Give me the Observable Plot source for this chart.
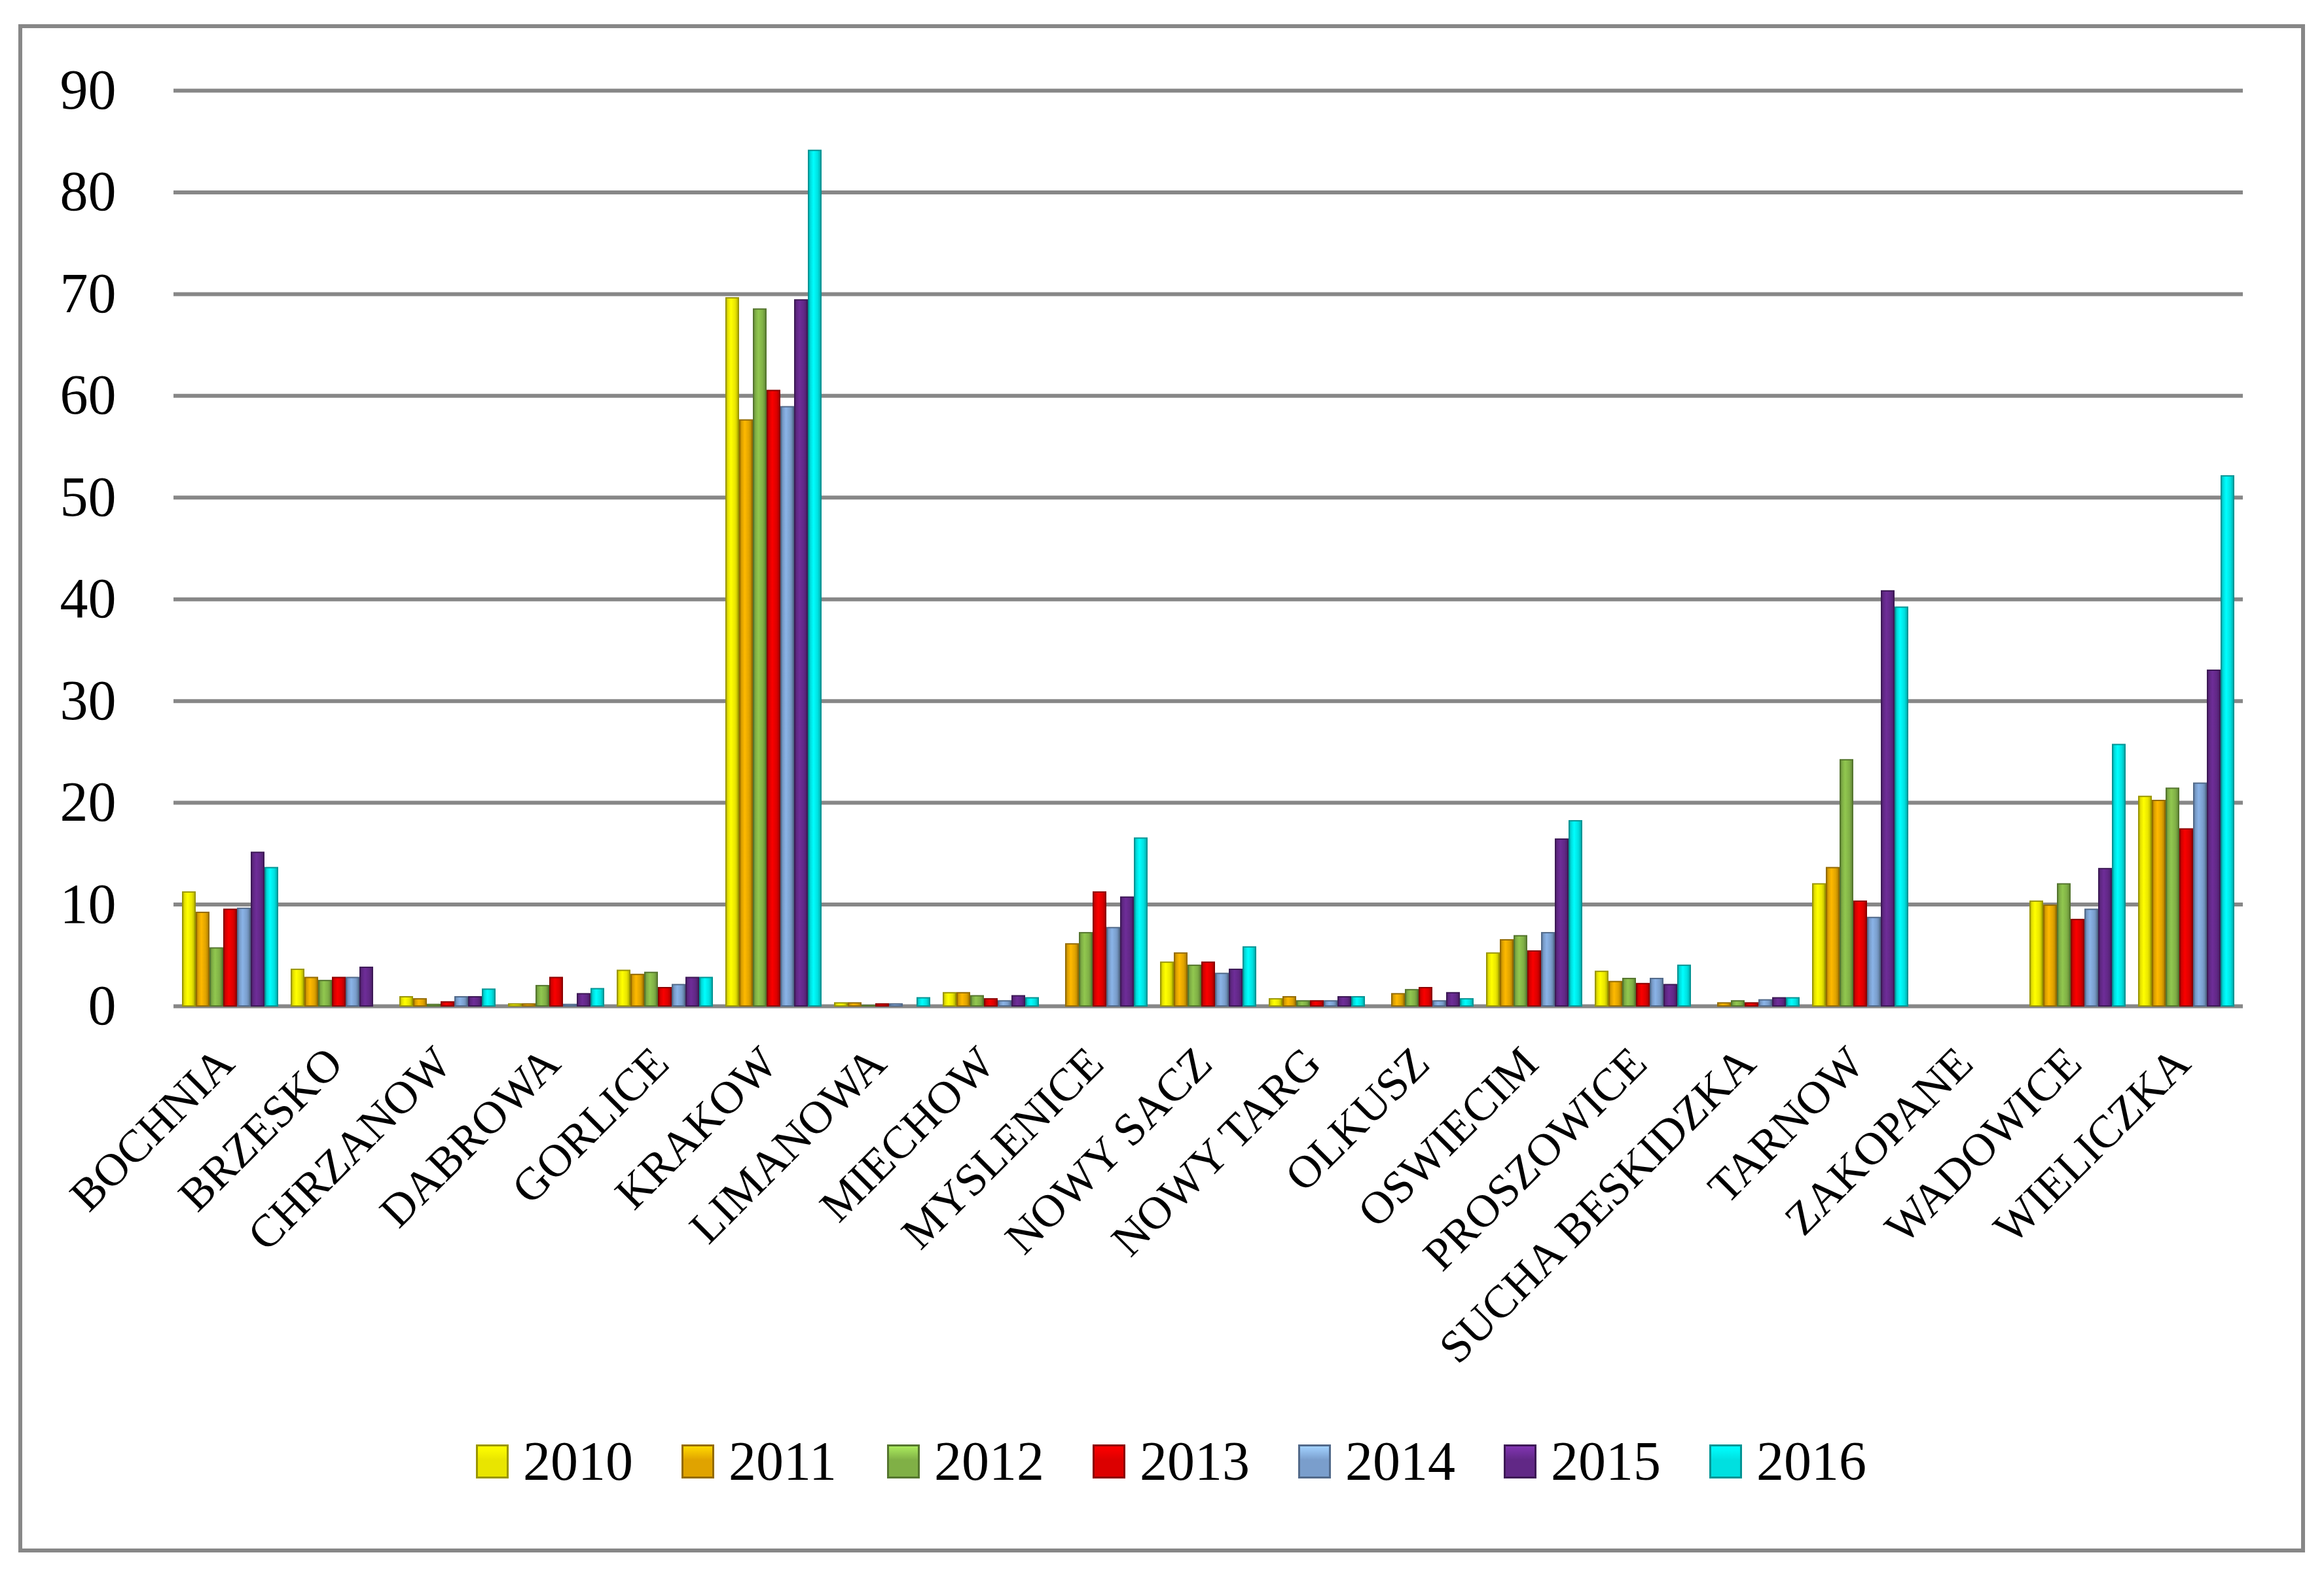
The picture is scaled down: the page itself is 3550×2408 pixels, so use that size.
<!DOCTYPE html>
<html>
<head>
<meta charset="utf-8">
<script src="https://cdn.jsdelivr.net/npm/d3@7"></script>
<script src="https://cdn.jsdelivr.net/npm/@observablehq/plot@0.6"></script>
<style>
  html, body { margin: 0; padding: 0; background: #fff; }
  body { width: 3550px; height: 2408px; position: relative; overflow: hidden; font-family: "Liberation Serif", "Times New Roman", serif; }
  #frame { position: absolute; left: 28px; top: 37px; width: 3493px; height: 2335px; box-sizing: border-box; border: 6px solid #878787; }
  .layer { position: absolute; left: 0; top: 0; }
  #legend { position: absolute; top: 2203px; left: 727px; display: flex; align-items: center; height: 60px; }
  .item { display: flex; align-items: center; width: 314px; }
  .sw { width: 50px; height: 52px; box-sizing: border-box; border: 3px solid rgba(0,0,0,0.28); margin-right: 22px; }
  .lab { font-size: 84px; line-height: 60px; color: #000; }
</style>
</head>
<body>
<div id="frame"></div>
<div id="grid" class="layer"></div>
<div id="bars" class="layer"></div>
<div id="legend"></div>
<script>
const districts = ["BOCHNIA","BRZESKO","CHRZANOW","DABROWA","GORLICE","KRAKOW","LIMANOWA","MIECHOW","MYSLENICE","NOWY SACZ","NOWY TARG","OLKUSZ","OSWIECIM","PROSZOWICE","SUCHA BESKIDZKA","TARNOW","ZAKOPANE","WADOWICE","WIELICZKA"];
const years = ["2010","2011","2012","2013","2014","2015","2016"];
const yTicks = [0,10,20,30,40,50,60,70,80,90];

const v2010 = [11.2, 3.6, 0.9, 0.2, 3.5, 69.6, 0.3, 1.3, 0,    4.3, 0.7, 0,   5.2, 3.4, 0,   12.0, 0, 10.3, 20.6];
const v2011 = [9.2,  2.8, 0.7, 0.2, 3.1, 57.6, 0.3, 1.3, 6.1,  5.2, 0.9, 1.2, 6.5, 2.4, 0.3, 13.6, 0,  9.9, 20.2];
const v2012 = [5.7,  2.5, 0.15,2.0, 3.3, 68.5, 0.05,1.0, 7.2,  4.0, 0.5, 1.6, 6.9, 2.7, 0.5, 24.2, 0, 12.0, 21.4];
const v2013 = [9.5,  2.8, 0.4, 2.8, 1.8, 60.5, 0.2, 0.7, 11.2, 4.3, 0.5, 1.8, 5.4, 2.2, 0.3, 10.3, 0,  8.5, 17.4];
const v2014 = [9.6,  2.8, 0.9, 0.15,2.1, 58.9, 0.2, 0.5, 7.7,  3.2, 0.5, 0.5, 7.2, 2.7, 0.6,  8.7, 0,  9.5, 21.9];
const v2015 = [15.1, 3.8, 0.9, 1.2, 2.8, 69.4, 0,   1.0, 10.7, 3.6, 0.9, 1.3, 16.4,2.1, 0.8, 40.8, 0, 13.5, 33.0];
const v2016 = [13.6, 0,   1.65,1.7, 2.8, 84.1, 0.8, 0.8, 16.5, 5.8, 0.9, 0.7, 18.2,4.0, 0.8, 39.2, 0, 25.7, 52.1];

const series = [v2010, v2011, v2012, v2013, v2014, v2015, v2016];
const colors = ["#e9e500", "#e0a300", "#80b046", "#dc0000", "#7a9ecc", "#612886", "#00e0e0"];
const edges  = ["#9a9600", "#946b00", "#55762f", "#8c0000", "#526a8a", "#3d1956", "#009494"];

const data = [];
districts.forEach((d, i) => {
  years.forEach((y, j) => {
    const v = series[j][i];
    if (v > 0) data.push({district: d, year: y, value: v, edge: edges[j]});
  });
});

const W = 3550, H = 2050, ML = 265, MR = 124, MT = 138, MB = 513;

const grid = Plot.plot({
  width: W, height: H,
  marginLeft: ML, marginRight: MR, marginTop: MT, marginBottom: MB,
  style: {fontFamily: "Liberation Serif", background: "transparent", overflow: "visible"},
  x: {domain: [0, 1], axis: null},
  y: {domain: [0, 90], axis: null},
  marks: [
    Plot.gridY(yTicks, {stroke: "#878787", strokeWidth: 6, strokeOpacity: 1}),
    Plot.axisY(yTicks, {tickSize: 0, tickPadding: 88, fontSize: 86, fill: "#000", label: null})
  ]
});
document.getElementById("grid").appendChild(grid);

const bars = Plot.plot({
  width: W, height: H,
  marginLeft: ML, marginRight: MR, marginTop: MT, marginBottom: MB,
  style: {fontFamily: "Liberation Serif", background: "transparent", overflow: "visible"},
  fx: {domain: districts, paddingInner: 0.08, paddingOuter: 0.03, axis: null, label: null},
  x: {domain: years, padding: 0.08, axis: null},
  y: {domain: [0, 90], axis: null},
  color: {domain: years, range: colors},
  marks: [
    Plot.barY(data, {fx: "district", x: "year", y: "value", fill: "year", stroke: "edge", strokeWidth: 2}),
    Plot.text(districts, {fx: d => d, text: d => d, frameAnchor: "bottom", rotate: -45, textAnchor: "end", lineAnchor: "top", dx: -26, dy: 56, fontSize: 70, fill: "#000"})
  ]
});
document.getElementById("bars").appendChild(bars);

// subtle cylinder-like shading on the bars, as in the reference
const ns = "http://www.w3.org/2000/svg";
const defs = document.createElementNS(ns, "defs");
colors.forEach((c, j) => {
  const g = document.createElementNS(ns, "linearGradient");
  g.setAttribute("id", "grad" + j);
  g.setAttribute("x1", "0"); g.setAttribute("x2", "1"); g.setAttribute("y1", "0"); g.setAttribute("y2", "0");
  const base = d3.color(c);
  [[0, base.darker(0.7)], [0.18, base], [0.4, base.brighter(0.35)], [0.75, base], [1, base.darker(0.8)]].forEach(([o, col]) => {
    const s = document.createElementNS(ns, "stop");
    s.setAttribute("offset", o);
    s.setAttribute("stop-color", col.formatHex());
    g.appendChild(s);
  });
  defs.appendChild(g);
});
bars.insertBefore(defs, bars.firstChild);
const colorIndex = new Map(colors.map((c, j) => [d3.color(c).formatHex(), j]));
bars.querySelectorAll("rect").forEach(r => {
  const f = r.getAttribute("fill");
  if (!f) return;
  const c = d3.color(f);
  if (!c) return;
  const j = colorIndex.get(c.formatHex());
  if (j !== undefined) r.setAttribute("fill", `url(#grad${j})`);
});

const legend = document.getElementById("legend");
years.forEach((y, j) => {
  const it = document.createElement("div");
  it.className = "item";
  const sw = document.createElement("div");
  sw.className = "sw";
  sw.style.background = `linear-gradient(to bottom, ${d3.color(colors[j]).brighter(0.8)} 0%, ${colors[j]} 45%, ${colors[j]} 100%)`;
  sw.style.borderColor = edges[j];
  const lb = document.createElement("span");
  lb.className = "lab";
  lb.textContent = y;
  it.appendChild(sw);
  it.appendChild(lb);
  legend.appendChild(it);
});
</script>
</body>
</html>
